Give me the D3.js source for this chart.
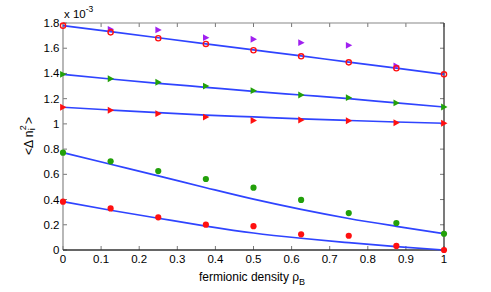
<!DOCTYPE html>
<html>
<head>
<meta charset="utf-8">
<script src="https://cdn.jsdelivr.net/npm/d3@7"></script>
<style>
  body { margin: 0; background: #fff; }
  text { font-family: "Liberation Sans", Arial, sans-serif; }
</style>
</head>
<body>
<div id="chart"></div>
<script>

// fermionic density values (x)
const densities = [0, 0.125, 0.25, 0.375, 0.5, 0.625, 0.75, 0.875, 1];

// markers, values in units of 1e-3
const purpleTriX = [0.125, 0.25, 0.375, 0.5, 0.625, 0.75, 0.875];
const purpleTri = [1.750, 1.745, 1.684, 1.671, 1.644, 1.623, 1.459];
const openCircles = [1.779, 1.726, 1.679, 1.634, 1.584, 1.536, 1.488, 1.441, 1.393];
const greenTri = [1.393, 1.358, 1.330, 1.300, 1.263, 1.229, 1.208, 1.166, 1.134];
const redTri = [1.132, 1.108, 1.081, 1.054, 1.027, 1.031, 1.025, 1.009, 1.005];
const greenDots = [0.772, 0.703, 0.626, 0.563, 0.494, 0.397, 0.293, 0.214, 0.129];
const redDots = [0.383, 0.330, 0.259, 0.201, 0.189, 0.124, 0.113, 0.032, 0];

// blue fitted curves
const fitTop = [1.779, 1.731, 1.683, 1.635, 1.587, 1.539, 1.490, 1.442, 1.393];
const fitMid = [1.393, 1.356, 1.322, 1.290, 1.258, 1.229, 1.200, 1.166, 1.134];
const fitLow = [1.132, 1.110, 1.089, 1.070, 1.055, 1.040, 1.027, 1.015, 1.005];
const fitGreen = [0.772, 0.680, 0.588, 0.494, 0.403, 0.322, 0.250, 0.188, 0.130];
const fitRed = [0.383, 0.315, 0.252, 0.190, 0.135, 0.093, 0.058, 0.026, 0];

const xTicks = [0, 0.1, 0.2, 0.3, 0.4, 0.5, 0.6, 0.7, 0.8, 0.9, 1];
const yTicks = [0, 0.2, 0.4, 0.6, 0.8, 1, 1.2, 1.4, 1.6, 1.8];

const widthSvg = 491, heightSvg = 292;
const padLeft = 63, padRight = 444, padTop = 23, padBottom = 250;

const x = d3.scaleLinear().domain([0, 1]).range([padLeft, padRight]);
const y = d3.scaleLinear().domain([0, 1.8]).range([padBottom, padTop]);

const svg = d3.select("#chart").append("svg")
    .attr("width", widthSvg).attr("height", heightSvg);

// ticks (inward, on all four sides)
const tickLen = 4;
svg.append("g").selectAll("line")
    .data(xTicks).enter().append("line")
    .attr("x1", d => x(d)).attr("x2", d => x(d))
    .attr("y1", padBottom).attr("y2", padBottom - tickLen)
    .attr("stroke", "#777").attr("stroke-width", 1);
svg.append("g").selectAll("line")
    .data(xTicks).enter().append("line")
    .attr("x1", d => x(d)).attr("x2", d => x(d))
    .attr("y1", padTop).attr("y2", padTop + tickLen)
    .attr("stroke", "#777").attr("stroke-width", 1);
svg.append("g").selectAll("line")
    .data(yTicks).enter().append("line")
    .attr("x1", padLeft).attr("x2", padLeft + tickLen)
    .attr("y1", d => y(d)).attr("y2", d => y(d))
    .attr("stroke", "#777").attr("stroke-width", 1);
svg.append("g").selectAll("line")
    .data(yTicks).enter().append("line")
    .attr("x1", padRight).attr("x2", padRight - tickLen)
    .attr("y1", d => y(d)).attr("y2", d => y(d))
    .attr("stroke", "#777").attr("stroke-width", 1);

// box
svg.append("line").attr("x1", padLeft).attr("x2", padLeft).attr("y1", padTop).attr("y2", padBottom)
    .attr("stroke", "#888").attr("stroke-width", 1.2);
svg.append("line").attr("x1", padLeft).attr("x2", padRight).attr("y1", padTop).attr("y2", padTop)
    .attr("stroke", "#888").attr("stroke-width", 1.2);
svg.append("line").attr("x1", padLeft).attr("x2", padRight).attr("y1", padBottom).attr("y2", padBottom)
    .attr("stroke", "#333").attr("stroke-width", 1.3);
svg.append("line").attr("x1", padRight).attr("x2", padRight).attr("y1", padTop).attr("y2", padBottom)
    .attr("stroke", "#333").attr("stroke-width", 1.3);

// tick labels
svg.append("g").selectAll("text")
    .data(xTicks).enter().append("text")
    .attr("x", d => x(d)).attr("y", 263)
    .attr("text-anchor", "middle")
    .attr("font-size", 11.5)
    .text(d => d);
svg.append("g").selectAll("text")
    .data(yTicks).enter().append("text")
    .attr("x", 59.5).attr("y", d => y(d) + 4)
    .attr("text-anchor", "end")
    .attr("font-size", 11.5)
    .text(d => d);

// exponent
const expo = svg.append("text").attr("x", 64).attr("y", 17.5).attr("font-size", 11.5);
expo.append("tspan").text("x 10");
expo.append("tspan").attr("font-size", 8.5).attr("dy", -6).text("-3");

// x label
const xl = svg.append("text").attr("x", 252).attr("y", 281).attr("text-anchor", "middle")
    .attr("font-size", 12);
xl.append("tspan").text("fermionic density \u03c1");
xl.append("tspan").attr("font-size", 9).attr("dy", 4).text("B");

// y label <Δ n_i^2>
const yl = svg.append("g").attr("transform", "translate(32.5,155) rotate(-90)");
const part1 = yl.append("text").attr("x", 0).attr("y", 0).attr("font-size", 12).text("<\u0394 n");
const w1 = part1.node().getComputedTextLength();
yl.append("text").attr("x", w1 + 0.5).attr("y", 2.5).attr("font-size", 9).text("i");
const sup = yl.append("text").attr("x", w1 + 0.5).attr("y", -6.5).attr("font-size", 9).text("2");
const w2 = sup.node().getComputedTextLength();
yl.append("text").attr("x", w1 + w2 + 1.5).attr("y", 0).attr("font-size", 12).text(">");

// fitted curves
const line = d3.line()
    .x((d, i) => x(densities[i]))
    .y(d => y(d))
    .curve(d3.curveMonotoneX);

const fits = [fitTop, fitMid, fitLow, fitGreen, fitRed];
svg.append("g").selectAll("path")
    .data(fits).enter().append("path")
    .attr("d", line)
    .attr("fill", "none")
    .attr("stroke", "#2f44ff")
    .attr("stroke-width", 1.7);

// markers
const triPath = "M-2.9,-3.4L3.5,0L-2.9,3.4Z";

function triangles(xs, ys, color) {
    svg.append("g").selectAll("path")
        .data(ys).enter().append("path")
        .attr("d", triPath)
        .attr("transform", (d, i) => `translate(${x(xs[i])},${y(d)})`)
        .attr("fill", color);
}

function dots(ys, color) {
    svg.append("g").selectAll("circle")
        .data(ys).enter().append("circle")
        .attr("cx", (d, i) => x(densities[i]))
        .attr("cy", d => y(d))
        .attr("r", 3.1)
        .attr("fill", color);
}

triangles(purpleTriX, purpleTri, "#a020f0");
triangles(densities, greenTri, "#22a00a");
triangles(densities, redTri, "#ff1010");
dots(greenDots, "#22a00a");
dots(redDots, "#ff1010");

svg.append("g").selectAll("circle")
    .data(openCircles).enter().append("circle")
    .attr("cx", (d, i) => x(densities[i]))
    .attr("cy", d => y(d))
    .attr("r", 2.6)
    .attr("fill", "none")
    .attr("stroke", "#ff1010")
    .attr("stroke-width", 1.4);

</script>
</body>
</html>
